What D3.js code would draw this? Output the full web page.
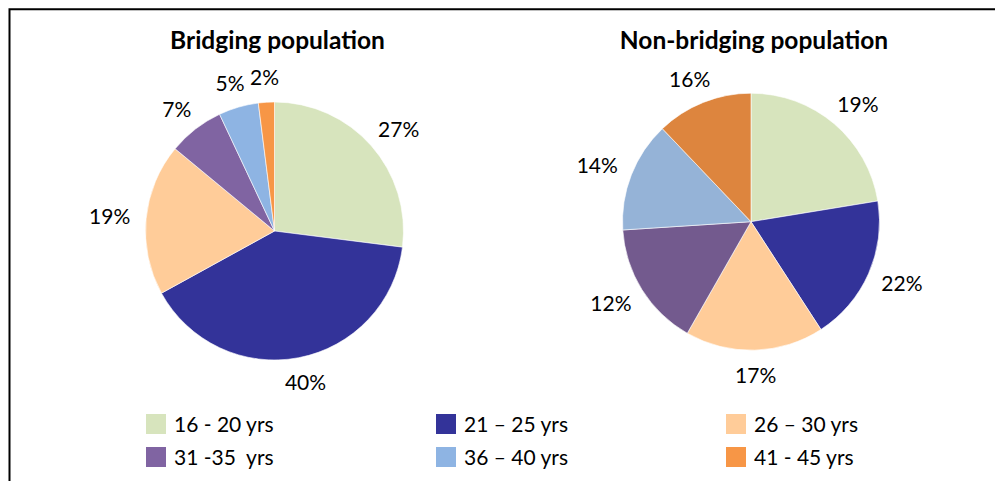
<!DOCTYPE html>
<html>
<head>
<meta charset="utf-8">
<script src="https://cdn.jsdelivr.net/npm/d3@7"></script>
<style>
  body { margin: 0; background: #fff; }
  svg text { font-family: Lato, "Open Sans", sans-serif; fill: #000; }
</style>
</head>
<body>
<div id="chart"></div>
<script>
// age groups (legend order = slice order)
var ageGroups = ["16 - 20 yrs", "21 \u2013 25 yrs", "26 \u2013 30 yrs", "31 -35  yrs", "36 \u2013 40 yrs", "41 - 45 yrs"];

// bridging population, % per age group
var bridgingValues = [27, 40, 19, 7, 5, 2];
var bridgingLabels = ["27%", "40%", "19%", "7%", "5%", "2%"];

// non-bridging population: slice sizes as drawn, labels as printed
var nonBridgingValues = [22.4, 18.4, 17.4, 15.7, 13.9, 12.1];
var nonBridgingLabels = ["19%", "22%", "17%", "12%", "14%", "16%"];

var titles = ["Bridging population", "Non-bridging population"];

var bridgingColors = ["#D7E4BD", "#333399", "#FFCC99", "#8064A2", "#8EB4E3", "#F79646"];
var nonBridgingColors = ["#D7E4BD", "#333399", "#FFCC99", "#735A8E", "#95B3D7", "#DD853E"];

var svgWidth = 1000;
var svgHeight = 481;

var svg = d3.select("#chart")
    .append("svg")
    .attr("width", svgWidth)
    .attr("height", svgHeight);

// frame: only top and left edges are visible
svg.append("path")
    .attr("d", "M9.5,481 L9.5,9.3 L995,9.3")
    .attr("fill", "none")
    .attr("stroke", "#000")
    .attr("stroke-width", 2);

var radius = 129;
var labelPad = 16;

function drawPie(cx, cy, r, values, labels, colors, title) {
    var g = svg.append("g")
        .attr("transform", `translate(${cx}, ${cy})`);

    var pie = d3.pie().sort(null).value(d => d);
    var arc = d3.arc().innerRadius(0).outerRadius(r);
    var arcs = pie(values);

    g.selectAll("path.slice")
        .data(arcs)
        .enter()
        .append("path")
        .attr("class", "slice")
        .attr("d", arc)
        .attr("fill", (d, i) => colors[i])
        .attr("stroke", "#fff")
        .attr("stroke-width", 0.6);

    // outside-end labels, pushed out by half their box
    g.selectAll("text.lbl")
        .data(arcs)
        .enter()
        .append("text")
        .attr("class", "lbl")
        .attr("text-anchor", "middle")
        .attr("dy", "0.36em")
        .style("font-size", "21px")
        .text((d, i) => labels[i])
        .each(function (d) {
            var a = (d.startAngle + d.endAngle) / 2;
            var sx = Math.sin(a), sy = -Math.cos(a);
            var w = this.getComputedTextLength();
            var h = 18;
            var base = r + labelPad;
            d3.select(this)
                .attr("x", sx * base + sx * w / 2)
                .attr("y", sy * base + sy * h / 2);
        });

    svg.append("text")
        .attr("x", cx + 3)
        .attr("y", 49)
        .attr("text-anchor", "middle")
        .style("font-size", "24.5px")
        .style("font-weight", "bold")
        .text(title);
}

drawPie(274.5, 231, radius, bridgingValues, bridgingLabels, bridgingColors, titles[0]);
drawPie(751, 221.7, radius - 0.5, nonBridgingValues, nonBridgingLabels, nonBridgingColors, titles[1]);

// legend, 3 columns x 2 rows
var legendX = d3.scalePoint().domain([0, 1, 2]).range([146, 726]);
var legendY = d3.scalePoint().domain([0, 1]).range([414, 447]);

var legend = svg.selectAll("g.legend")
    .data(ageGroups)
    .enter()
    .append("g")
    .attr("class", "legend")
    .attr("transform", (d, i) => `translate(${legendX(i % 3)}, ${legendY(Math.floor(i / 3))})`);

legend.append("rect")
    .attr("width", 20)
    .attr("height", 20)
    .attr("fill", (d, i) => bridgingColors[i]);

legend.append("text")
    .attr("x", 28)
    .attr("y", 10)
    .attr("dy", "0.36em")
    .style("font-size", "21px")
    .style("white-space", "pre")
    .text(d => d);
</script>
</body>
</html>
